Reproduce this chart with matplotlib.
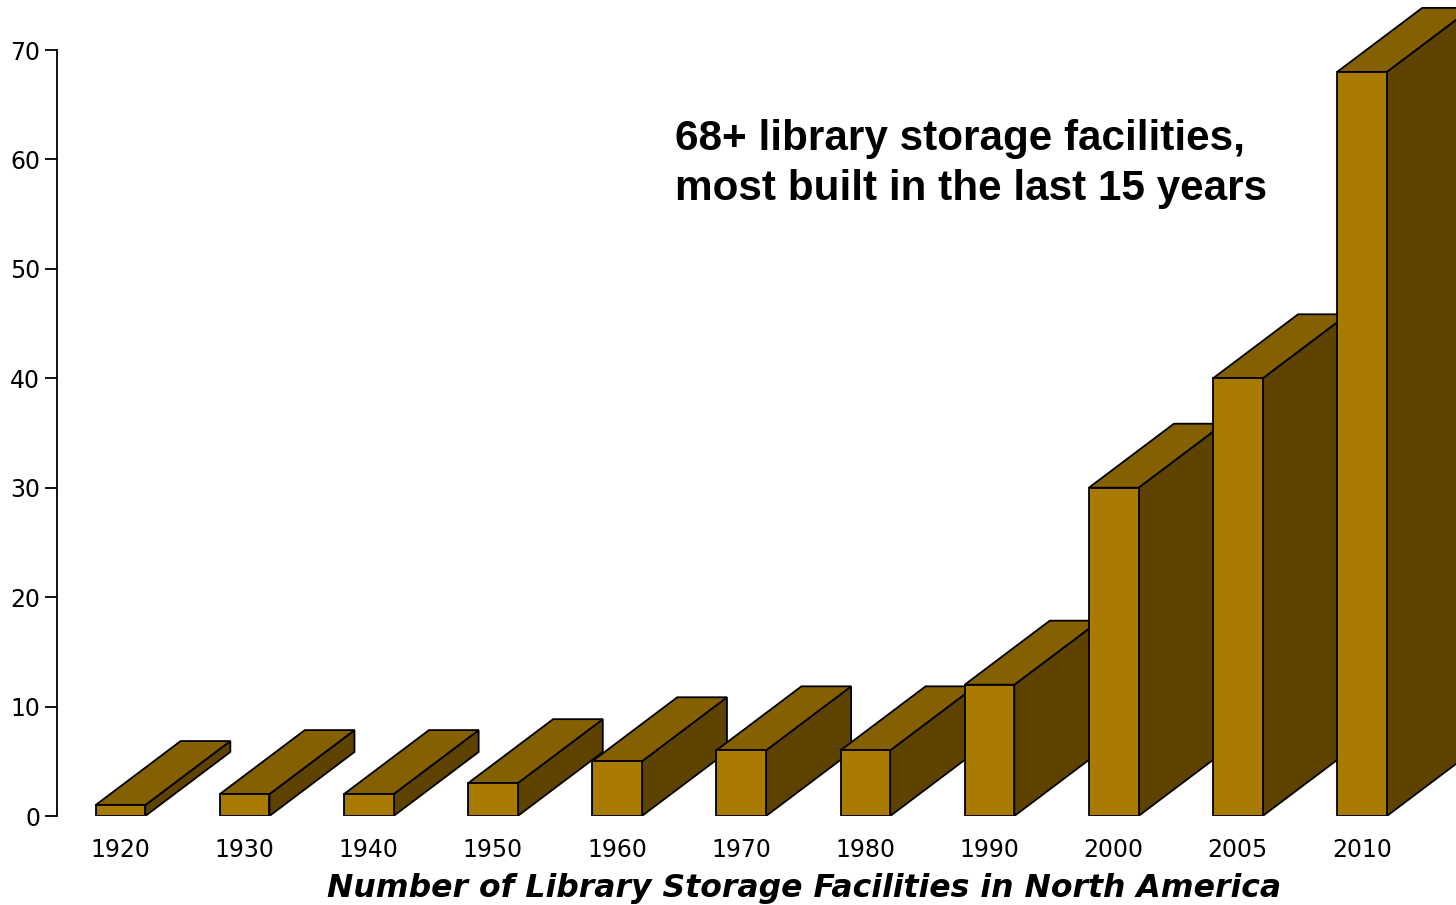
import matplotlib.pyplot as plt
from matplotlib.patches import Polygon

## data
years = ["1920", "1930", "1940", "1950", "1960", "1970", "1980", "1990", "2000", "2005", "2010"]
counts = [1, 2, 2, 3, 5, 6, 6, 12, 30, 40, 68]

## style
c_front = "#a87a00"
c_top = "#856000"
c_side = "#5e4300"
lw0 = 1.3
width = 0.40      # front face width (category units)
dx = 0.685        # depth offset in x
dy = 5.85         # depth offset in y

fig = plt.figure(figsize=(14.56, 9.05), dpi=100)
ax = fig.add_axes([57 / 1456, 89 / 905, 1 - 57 / 1456, 816 / 905])

for i, v in enumerate(counts):
    x0 = i - width / 2
    x1 = i + width / 2
    front = [(x0, 0), (x1, 0), (x1, v), (x0, v)]
    top = [(x0, v), (x1, v), (x1 + dx, v + dy), (x0 + dx, v + dy)]
    side = [(x1, 0), (x1 + dx, dy), (x1 + dx, v + dy), (x1, v)]
    for pts, col in [(side, c_side), (top, c_top), (front, c_front)]:
        ax.add_patch(Polygon(pts, closed=True, facecolor=col, edgecolor="k",
                             linewidth=lw0, joinstyle="miter"))

ax.set_xlim(-0.511, 10.757)
ax.set_ylim(0, 74.57)

for s in ["top", "right", "bottom"]:
    ax.spines[s].set_visible(False)
ax.spines["left"].set_bounds(0, 70)
ax.spines["left"].set_linewidth(1.3)

ax.set_yticks(range(0, 71, 10))
ax.tick_params(axis="y", length=9, width=1.3, pad=3)
ax.set_xticks(range(len(years)), years)
ax.tick_params(axis="x", length=0, pad=16)
for lab in ax.get_xticklabels() + ax.get_yticklabels():
    lab.set_family("Liberation Sans Narrow")
    lab.set_fontsize(17)

fig.text(675 / 1456, 1 - 119 / 905,
         "68+ library storage facilities,\nmost built in the last 15 years",
         fontsize=30.4, fontweight="bold", family="Liberation Sans",
         ha="left", va="top", linespacing=1.32)

fig.text(804 / 1456, 1 - 888 / 905,
         "Number of Library Storage Facilities in North America",
         fontsize=22.7, fontweight="bold", style="italic", family="DejaVu Sans",
         ha="center", va="center")

fig.savefig("out.png", dpi=100)
